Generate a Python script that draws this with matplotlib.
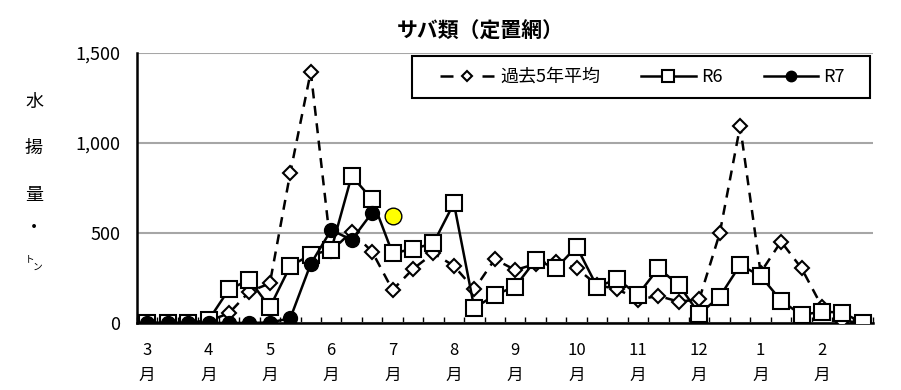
import matplotlib
matplotlib.use("Agg")
import matplotlib.pyplot as plt
from matplotlib.patches import Rectangle
from matplotlib.legend_handler import HandlerLine2D
import numpy as np

plt.rcParams['font.family'] = ['Noto Sans CJK JP', 'DejaVu Sans']

# 旬別 (上・中・下旬) from March to February, 36 points
months = ['3', '4', '5', '6', '7', '8', '9', '10', '11', '12', '1', '2']
past5 = [0, 0, 0, 10, 54, 174, 220, 835, 1396, 400, 507, 396,
         183, 300, 387, 317, 187, 354, 294, 328, 341, 304, 211, 187,
         130, 150, 118, 131, 498, 1094, 280, 452, 304, 91, 12, 0]
r6 = [0, 0, 0, 15, 187, 239, 87, 317, 378, 406, 817, 687,
      387, 411, 443, 665, 81, 156, 202, 350, 304, 424, 202, 243,
      156, 304, 211, 50, 146, 322, 261, 124, 44, 63, 57, 0]
r7 = [0, 0, 0, 0, 0, 0, 2, 26, 328, 517, 461, 613]
latest_idx = 12
latest_val = 594


def legend_dash(legline, orig):
    # "- ◇ -" look for the dashed entry
    legline.update_from(orig)
    legline.set_linestyle((0, (5.2, 11.6)))


fig = plt.figure(figsize=(9.01, 3.9), dpi=100)
ax = fig.add_axes([0.152, 0.172, 0.817, 0.692])

x = np.arange(len(past5))
avg_line, = ax.plot(x, past5, color='black', lw=1.8, ls=(0, (4, 3)), marker='D',
                    ms=7, mfc='white', mec='black', mew=1.5, label='過去5年平均',
                    zorder=3)
ax.plot(x, r6, color='black', lw=1.8, marker='s', ms=11,
        mfc='white', mec='black', mew=1.5, label='R6', zorder=4)
ax.plot(np.arange(len(r7)), r7, color='black', lw=1.8, marker='o', ms=10,
        mfc='black', mec='black', label='R7', zorder=5)
ax.plot([latest_idx], [latest_val], ls='none', marker='o', ms=12,
        mfc='#ffff00', mec='black', mew=1.0, zorder=6)

ax.set_xlim(-0.5, len(past5) - 0.5)
ax.set_ylim(0, 1500)
ax.set_yticks([0, 500, 1000, 1500])
ax.set_yticklabels(['0', '500', '1,000', '1,500'], fontsize=13)
ax.yaxis.grid(True, color='#a6a6a6', lw=1.5)
ax.set_axisbelow(True)
ax.tick_params(axis='y', length=0, pad=12)

ax.set_xticks(np.arange(0, 36, 3))
ax.set_xticklabels([m + '\n月' for m in months], fontsize=12, linespacing=1.6)
ax.set_xticks(np.arange(-0.5, 36, 1), minor=True)
ax.tick_params(axis='x', which='major', length=0, pad=14)
ax.tick_params(axis='x', which='minor', direction='in', length=4, width=1)

for s in ['top', 'right']:
    ax.spines[s].set_visible(False)
for s in ['left', 'bottom']:
    ax.spines[s].set_linewidth(1.8)

# legend box drawn separately so the padding can match the original
box = Rectangle((0.3736, 0.8333), 0.6223, 0.1556, transform=ax.transAxes,
                facecolor='white', edgecolor='black', lw=1.5,
                clip_on=False, zorder=7)
ax.add_patch(box)
leg = ax.legend(loc='center', bbox_to_anchor=(0.687, 0.911),
                ncol=3, fontsize=13, frameon=False,
                markerscale=0.75, handlelength=3.0, handletextpad=0.3,
                borderaxespad=0, borderpad=0, columnspacing=2.3,
                handler_map={avg_line: HandlerLine2D(update_func=legend_dash)})
leg.set_zorder(8)

fig.text(0.533, 1 - 31 / 390, 'サバ類（定置網）', fontsize=15, fontweight='bold',
         ha='center', va='center')

for ch, yp in [('水', 102), ('揚', 148), ('量', 195), ('・', 228)]:
    fig.text(34 / 901, 1 - yp / 390, ch, fontsize=13, ha='center', va='center')
fig.text(30 / 901, 1 - 259 / 390, 'ト', fontsize=7, ha='center', va='center')
fig.text(38 / 901, 1 - 267 / 390, 'ン', fontsize=7, ha='center', va='center')

fig.savefig('out.png', dpi=100)
